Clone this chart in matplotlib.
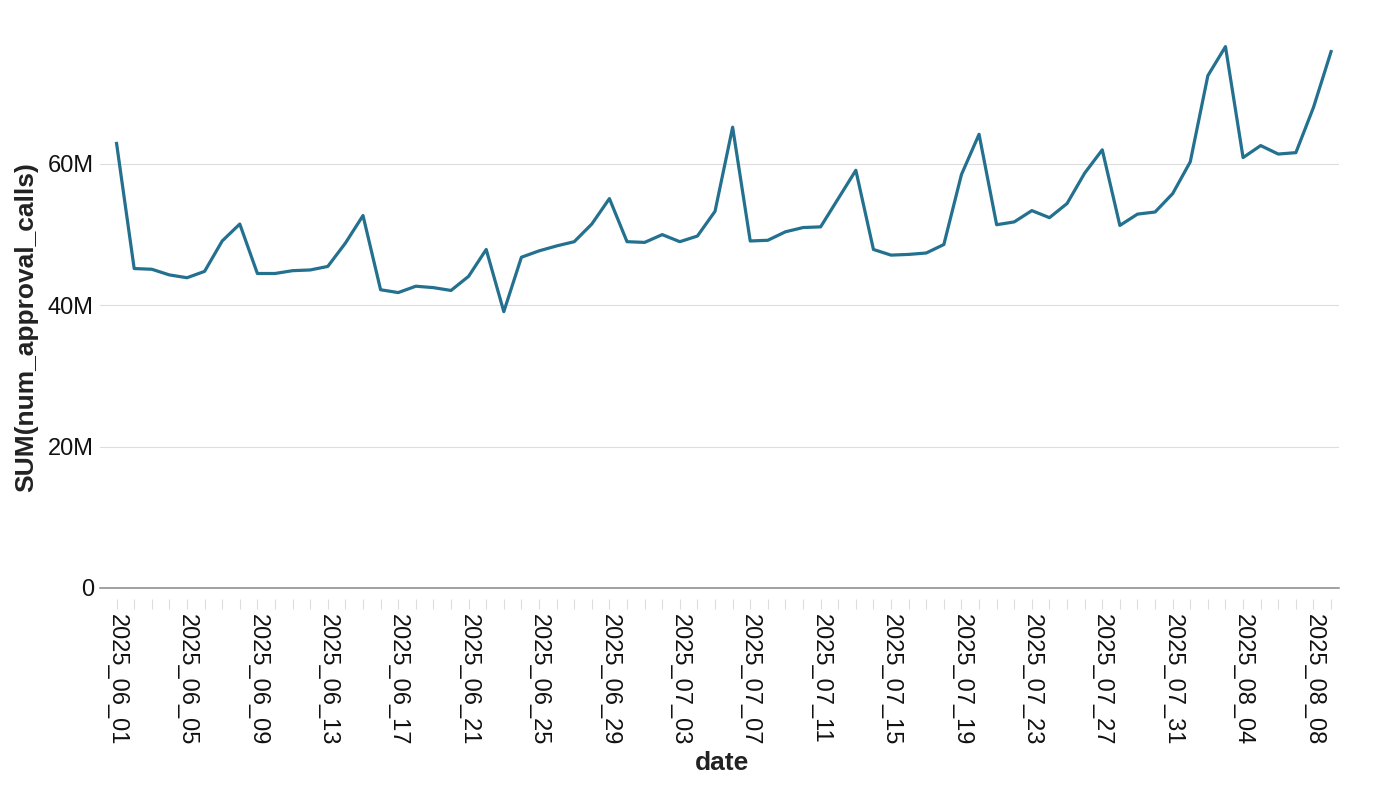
import numpy as np
import pandas as pd
import matplotlib
matplotlib.use('Agg')
import matplotlib.pyplot as plt
from matplotlib.ticker import FuncFormatter

plt.rcParams['font.family'] = ['Liberation Sans', 'DejaVu Sans']

# daily dates, labelled like the source table
dates = list(pd.date_range('2025-06-01', '2025-08-09').strftime('%Y_%m_%d'))

# SUM(num_approval_calls), millions
calls_m = [62.9, 45.2, 45.1, 44.3, 43.9, 44.8, 49.1, 51.5, 44.5, 44.5,
           44.9, 45.0, 45.5, 48.8, 52.7, 42.2, 41.8, 42.7, 42.5, 42.1,
           44.1, 47.9, 39.1, 46.8, 47.7, 48.4, 49.0, 51.5, 55.1, 49.0,
           48.9, 50.0, 49.0, 49.8, 53.3, 65.2, 49.1, 49.2, 50.4, 51.0,
           51.1, 55.1, 59.1, 47.9, 47.1, 47.2, 47.4, 48.6, 58.5, 64.2,
           51.4, 51.8, 53.4, 52.4, 54.4, 58.7, 62.0, 51.3, 52.9, 53.2,
           55.8, 60.3, 72.5, 76.6, 60.9, 62.6, 61.4, 61.6, 68.0, 75.9]
calls = np.array(calls_m) * 1e6

y_ticks = [0, 20e6, 40e6, 60e6]

fig = plt.figure(figsize=(13.84, 7.96), dpi=100)
ax = fig.add_axes([99.5/1384, 1-588/796, (1339-99.5)/1384, (588-22.6)/796])

# ticks hang a bit below the zero line, so push the (hidden) spine down first
ax.spines['bottom'].set_position(('outward', 8))
for s in ax.spines.values():
    s.set_visible(False)

x = np.arange(len(dates))
ax.plot(x, calls, color='#23708f', lw=2.3, zorder=3, clip_on=False)

ax.set_xlim(-0.97, len(dates) - 0.55)
ax.set_ylim(0, 80e6)

# y axis
ax.set_yticks(y_ticks)
ax.yaxis.set_major_formatter(FuncFormatter(lambda v, p: '0' if v == 0 else '%dM' % (v/1e6)))
ax.tick_params(axis='y', length=0, pad=4, labelsize=17, labelcolor='#111111')
for v in y_ticks[1:]:
    ax.axhline(v, color='#dddddd', lw=0.8, zorder=1)
ax.axhline(0, color='#888888', lw=1.1, zorder=2, clip_on=False)

# x axis
ax.set_xticks(x)
ax.set_xticklabels([d if i % 4 == 0 else '' for i, d in enumerate(dates)])
ax.tick_params(axis='x', length=7.2, width=0.8, color='#dddddd', pad=3.6,
               labelsize=17, labelcolor='#111111', labelrotation=-90)
for lab in ax.get_xticklabels():
    lab.set_ha('center')
    lab.set_va('top')

fig.text(722/1384, 1-763/796, 'date', ha='center', va='center',
         fontsize=19, fontweight='bold', color='#222222')
fig.text(26/1384, 1-327/796, 'SUM(num_approval_calls)', ha='center', va='center',
         rotation=90, fontsize=19, fontweight='bold', color='#222222')

fig.savefig('out.png', dpi=100)
